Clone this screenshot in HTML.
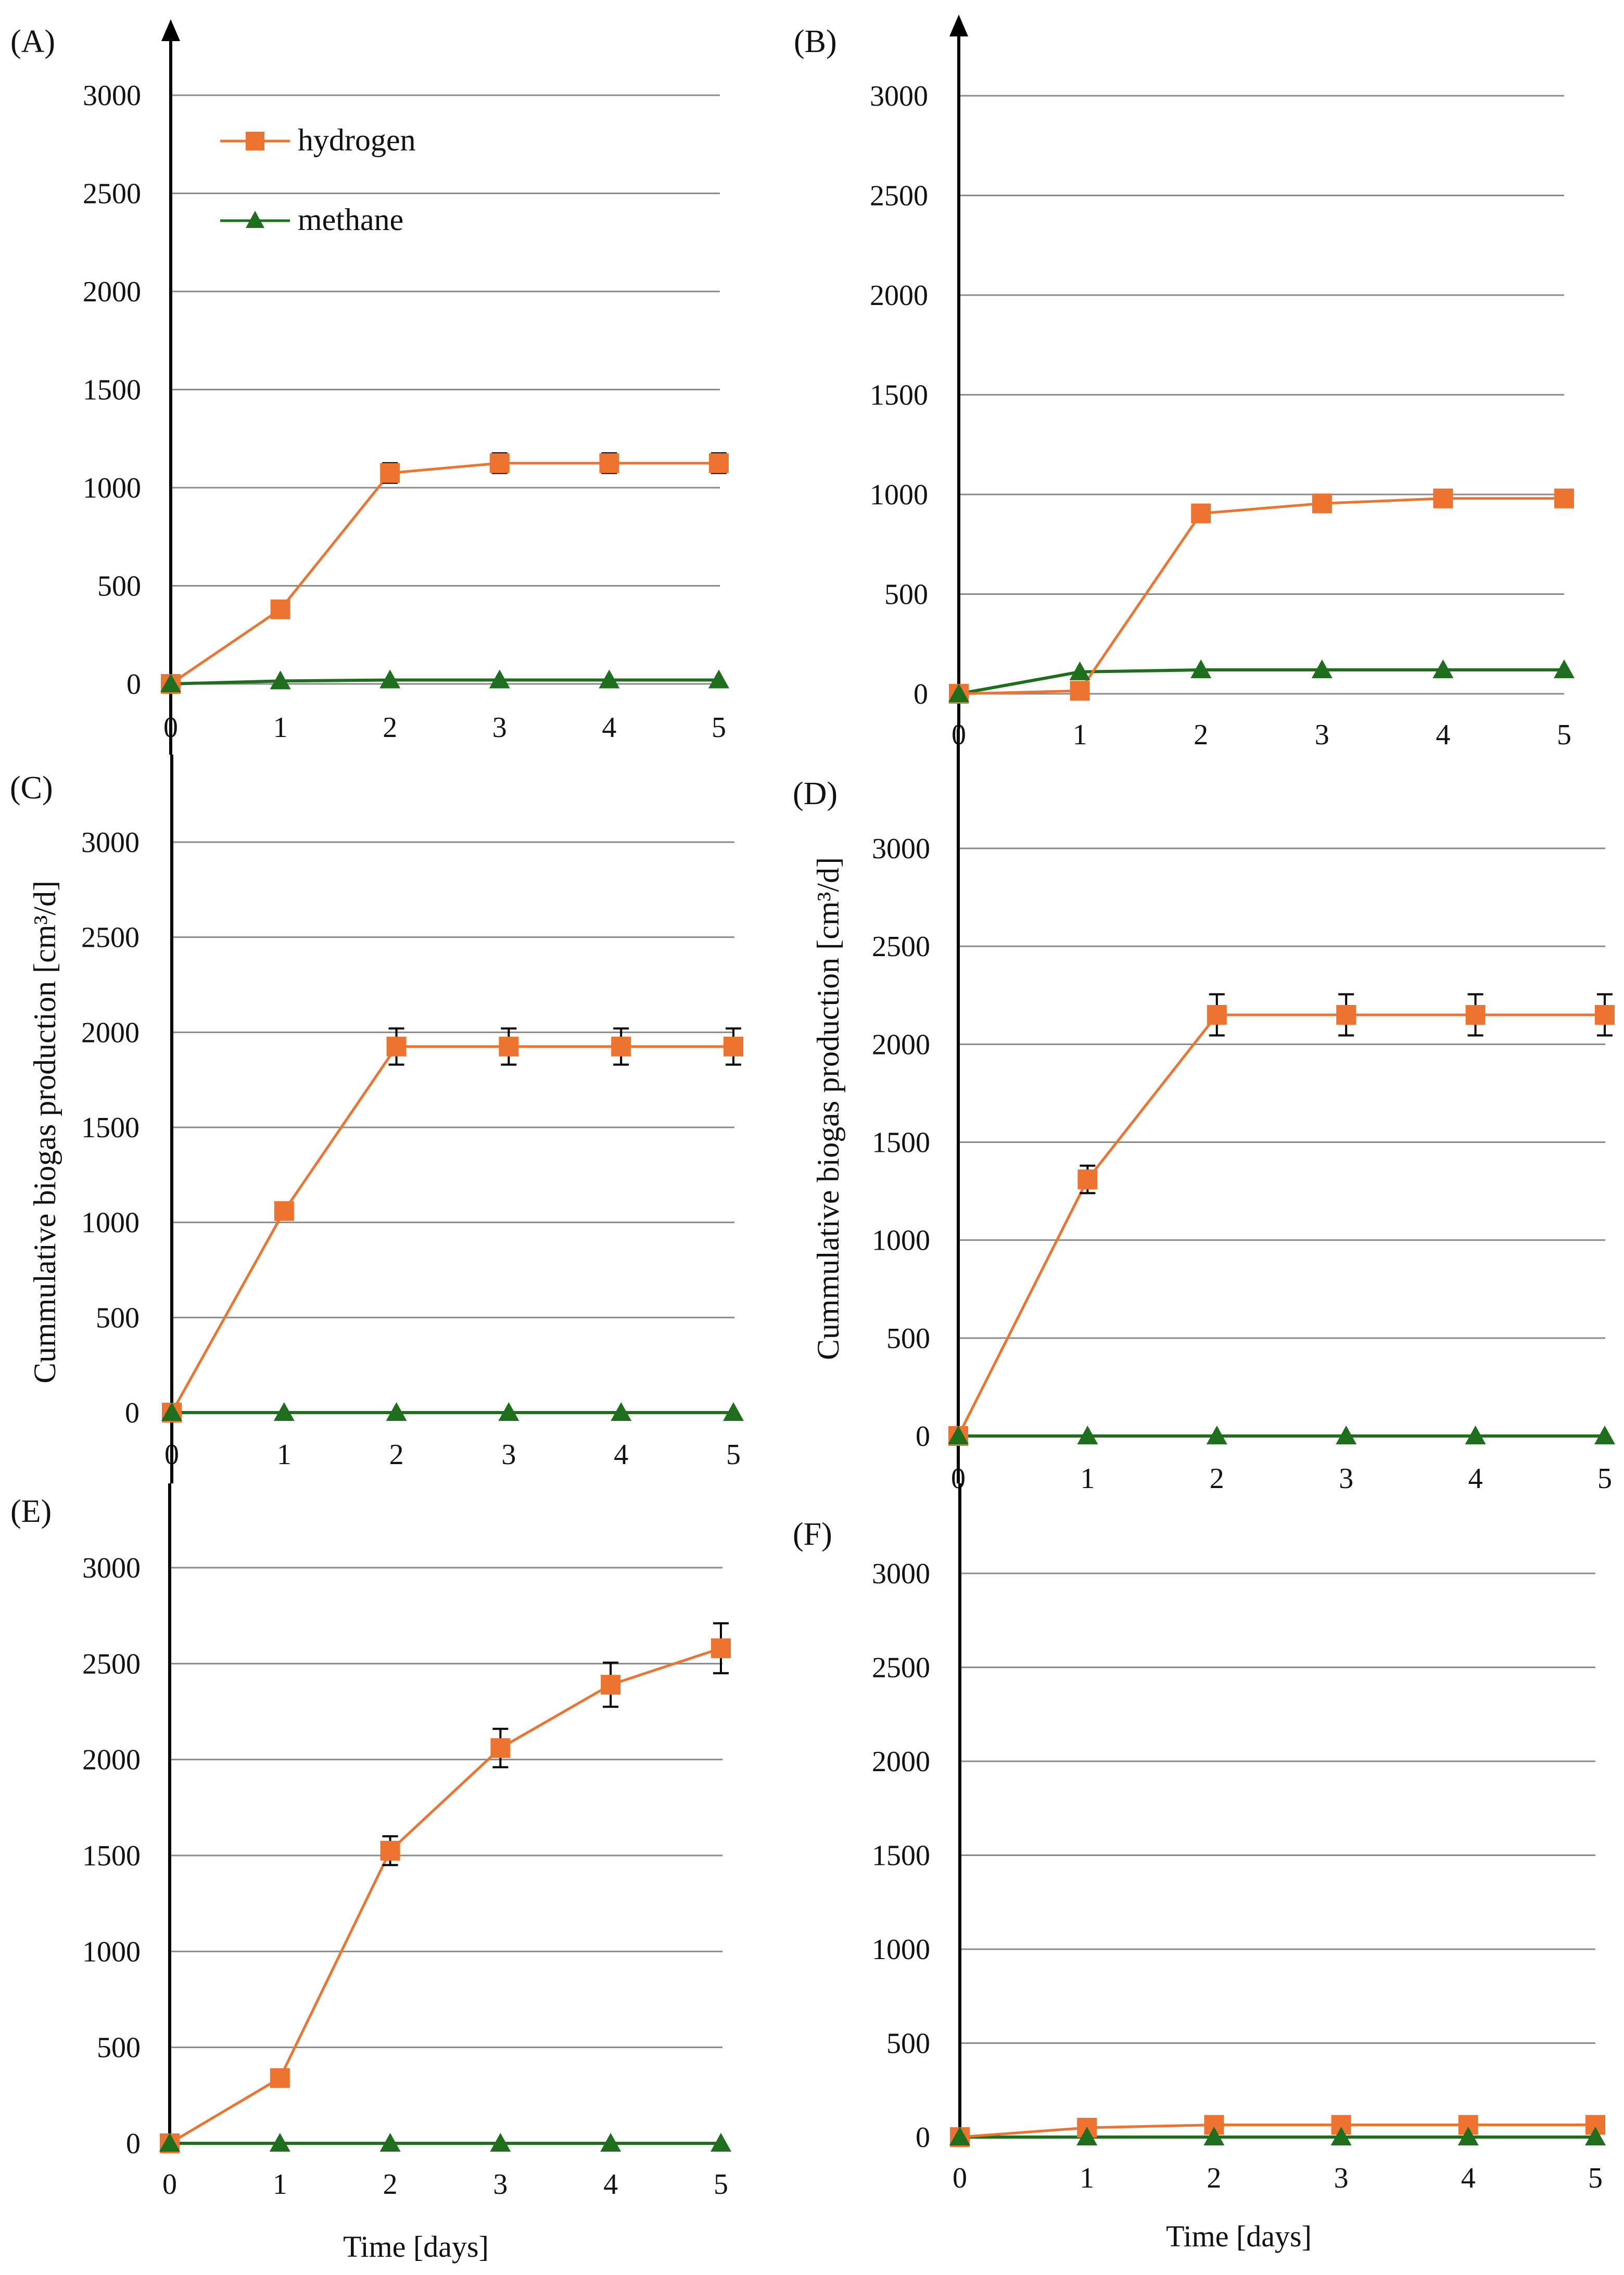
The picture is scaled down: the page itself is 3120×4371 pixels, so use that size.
<!DOCTYPE html>
<html><head><meta charset="utf-8">
<style>
html,body{margin:0;padding:0;background:#fff;}
svg{display:block;font-family:"Liberation Serif",serif;}
</style></head>
<body>
<svg id="chart" width="3120" height="4371" viewBox="0 0 3120 4371" xmlns="http://www.w3.org/2000/svg">
<rect width="3120" height="4371" fill="#fff"/>
<g id="root"></g>
</svg>
<script>
const days = [0,1,2,3,4,5];
const yTicks = [0,500,1000,1500,2000,2500,3000];
const panelLabels = ['(A)','(B)','(C)','(D)','(E)','(F)'];
const hydA = [0,380,1075,1125,1125,1125];
const hydErrA = [0,0,50,50,50,50];
const metA = [0,15,20,20,20,20];
const hydB = [0,15,905,955,980,980];
const hydErrB = [0,0,0,0,30,30];
const metB = [0,110,120,120,120,120];
const hydC = [0,1060,1925,1925,1925,1925];
const hydErrC = [0,40,95,95,95,95];
const metC = [0,0,0,0,0,0];
const hydD = [0,1310,2150,2150,2150,2150];
const hydErrD = [0,70,105,105,105,105];
const metD = [0,0,0,0,0,0];
const hydE = [0,340,1525,2060,2390,2580];
const hydErrE = [0,0,75,100,115,130];
const metE = [0,0,0,0,0,0];
const hydF = [0,50,65,65,65,65];
const hydErrF = [0,0,0,0,0,0];
const metF = [0,0,0,0,0,0];

const NS='http://www.w3.org/2000/svg';
const root=document.getElementById('root');
function mk(tag,attrs,parent){const e=document.createElementNS(NS,tag);for(const k in attrs)e.setAttribute(k,attrs[k]);(parent||root).appendChild(e);return e;}

const layouts=[
 {ax:328,x5:1381,gr:1383,y0:1314,y3:183,tly:1397,lbx:271,lab:[20,79],vt:37,vb:1450,arrow:true},
 {ax:1842,x5:3005,gr:3005,y0:1333,y3:184,tly:1411,lbx:1783,lab:[1525,79],vt:28,vb:1400,arrow:true},
 {ax:330,x5:1409,gr:1411,y0:2714,y3:1618,tly:2794,lbx:268,lab:[19,1513],vt:1450,vb:2850,ytitle:[86,2175]},
 {ax:1841,x5:3083,gr:3084,y0:2759,y3:1630,tly:2840,lbx:1787,lab:[1523,1524],vt:1400,vb:2850,ytitle:[1591,2130]},
 {ax:326,x5:1385,gr:1388,y0:4118,y3:3012,tly:4196,lbx:270,lab:[20,2903],vt:2850,vb:4125,xtitle:[799,4317]},
 {ax:1844,x5:3065,gr:3065,y0:4106,y3:3023,tly:4184,lbx:1787,lab:[1523,2947],vt:2850,vb:4110,xtitle:[2380,4297]}
];
const hyd=[hydA,hydB,hydC,hydD,hydE,hydF];
const err=[hydErrA,hydErrB,hydErrC,hydErrD,hydErrE,hydErrF];
const met=[metA,metB,metC,metD,metE,metF];
const ORANGE='#EC7430', GREEN='#1E6E1E';

layouts.forEach((L,p)=>{
  const g=mk('g',{});
  
  
  const X=d=>L.ax+(L.x5-L.ax)*d/5;
  const Y=v=>L.y0-(L.y0-L.y3)*v/3000;
  const lt=mk('text',{x:L.lab[0],y:L.lab[1]+21,'font-size':62,fill:'#111'},g);
  lt.textContent=panelLabels[p];
  
  
  yTicks.forEach(t=>{
    const gl=mk('line',{x1:L.ax,x2:L.gr,y1:Y(t),y2:Y(t),stroke:'#8a8a8a','stroke-width':3},g);
    
    
    const tx=mk('text',{x:L.lbx,y:Y(t)+19,'font-size':56,'text-anchor':'end',fill:'#111'},g);
    tx.textContent=t;
    
    
  });
  days.forEach(d=>{
    const tx=mk('text',{x:X(d),y:L.tly+19,'font-size':56,'text-anchor':'middle',fill:'#111'},g);
    tx.textContent=d;
    
    
  });
  const va=mk('line',{x1:L.ax,x2:L.ax,y1:L.vt+(L.arrow?30:0),y2:L.vb,stroke:'#000','stroke-width':6},g);
  
  
  if(L.arrow){
    const ar=mk('polygon',{points:`${L.ax},${L.vt} ${L.ax-18},${L.vt+42} ${L.ax+18},${L.vt+42}`,fill:'#000'},g);
    
    
  }
  const mp=mk('polyline',{points:days.map(d=>X(d)+','+Y(met[p][d])).join(' '),fill:'none',stroke:GREEN,'stroke-width':6},g);
  
  
  const hp=mk('polyline',{points:days.map(d=>X(d)+','+Y(hyd[p][d])).join(' '),fill:'none',stroke:ORANGE,'stroke-width':5},g);
  
  
  days.forEach(d=>{
    const e=err[p][d]; if(!e) return;
    const x=X(d), yt=Y(hyd[p][d]+e), yb=Y(hyd[p][d]-e);
    const eb=mk('path',{d:`M${x},${yt}V${yb}M${x-15},${yt}H${x+15}M${x-15},${yb}H${x+15}`,stroke:'#000','stroke-width':4,fill:'none'},g);
    
    
  });
  days.forEach(d=>{
    const x=X(d), y=Y(hyd[p][d]);
    const r=mk('rect',{x:x-19,y:y-19,width:38,height:38,fill:ORANGE},g);
    
    
  });
  days.forEach(d=>{
    const x=X(d), y=Y(met[p][d]);
    const t=mk('polygon',{points:`${x},${y-20} ${x-20},${y+16} ${x+20},${y+16}`,fill:GREEN},g);
    
    
  });
  if(L.ytitle){
    const yt=mk('text',{x:L.ytitle[0],y:L.ytitle[1],'font-size':60,'text-anchor':'middle',fill:'#111',transform:`rotate(-90 ${L.ytitle[0]} ${L.ytitle[1]})`,dy:20},g);
    yt.textContent='Cummulative biogas production [cm³/d]';
    
    
  }
  if(L.xtitle){
    const xt=mk('text',{x:L.xtitle[0],y:L.xtitle[1]+19,'font-size':58,'text-anchor':'middle',fill:'#111'},g);
    xt.textContent='Time [days]';
    
    
  }
});

const lg=mk('g',{});


const e1=mk('g',{},lg);


mk('line',{x1:423,x2:557,y1:271,y2:271,stroke:ORANGE,'stroke-width':5},e1);
mk('rect',{x:472,y:253,width:36,height:36,fill:ORANGE},e1);
const t1=mk('text',{x:572,y:289,'font-size':60,fill:'#111'},e1);t1.textContent='hydrogen';
const e2=mk('g',{},lg);


mk('line',{x1:423,x2:557,y1:424,y2:424,stroke:GREEN,'stroke-width':5},e2);
mk('polygon',{points:'490,405 472,438 508,438',fill:GREEN},e2);
const t2=mk('text',{x:572,y:442,'font-size':60,fill:'#111'},e2);t2.textContent='methane';
</script>
</body></html>
